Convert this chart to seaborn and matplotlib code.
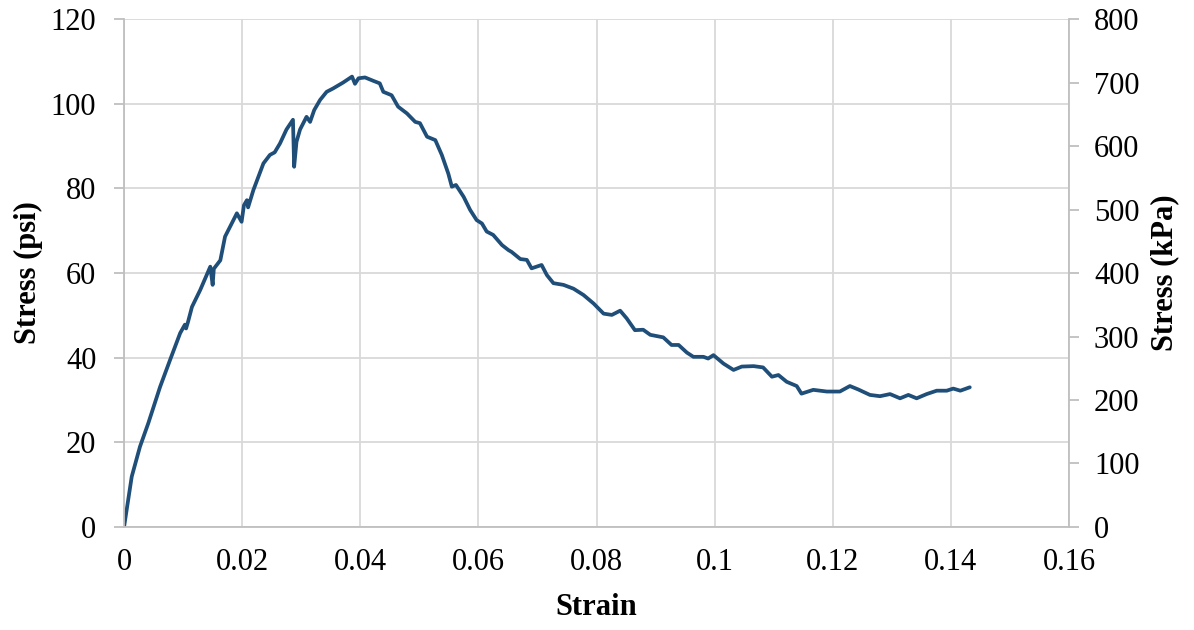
import matplotlib
matplotlib.use("Agg")
import matplotlib.pyplot as plt
import seaborn as sns
import pandas as pd

# strain / stress values
strain = [0.0000, 0.0013, 0.0027, 0.0041, 0.0061, 0.0078, 0.0095, 0.0103, 0.0105, 0.0108,
          0.0115, 0.0129, 0.0146, 0.0150, 0.0152, 0.0163, 0.0171, 0.0191, 0.0199, 0.0203,
          0.0208, 0.0210, 0.0219, 0.0236, 0.0247, 0.0255, 0.0264, 0.0275, 0.0286, 0.0288,
          0.0292, 0.0298, 0.0309, 0.0315, 0.0322, 0.0332, 0.0343, 0.0354, 0.0371, 0.0386,
          0.0391, 0.0397, 0.0408, 0.0422, 0.0433, 0.0439, 0.0453, 0.0464, 0.0479, 0.0493,
          0.0501, 0.0513, 0.0527, 0.0538, 0.0549, 0.0555, 0.0562, 0.0575, 0.0586, 0.0597,
          0.0606, 0.0614, 0.0625, 0.0640, 0.0651, 0.0656, 0.0671, 0.0682, 0.0690, 0.0707,
          0.0716, 0.0727, 0.0744, 0.0761, 0.0778, 0.0795, 0.0812, 0.0826, 0.0840, 0.0851,
          0.0865, 0.0879, 0.0891, 0.0913, 0.0927, 0.0939, 0.0953, 0.0964, 0.0981, 0.0989,
          0.0998, 0.1015, 0.1032, 0.1046, 0.1066, 0.1082, 0.1097, 0.1108, 0.1122, 0.1139,
          0.1147, 0.1167, 0.1190, 0.1212, 0.1229, 0.1243, 0.1263, 0.1280, 0.1297, 0.1314,
          0.1328, 0.1342, 0.1359, 0.1376, 0.1393, 0.1404, 0.1416, 0.1432]
stress_psi = [0.0, 11.9, 19.0, 24.5, 33.1, 39.5, 45.8, 47.8, 46.9, 48.3,
              52.0, 56.0, 61.5, 57.2, 61.0, 63.0, 68.6, 74.1, 72.1, 76.0,
              77.2, 75.5, 79.6, 85.9, 87.9, 88.5, 90.6, 93.9, 96.2, 85.1,
              91.0, 93.9, 96.9, 95.7, 98.5, 100.9, 102.8, 103.6, 105.0, 106.4,
              104.7, 106.0, 106.2, 105.4, 104.8, 102.8, 102.0, 99.3, 97.7, 95.7,
              95.4, 92.2, 91.4, 87.9, 83.5, 80.4, 80.8, 78.0, 74.9, 72.5,
              71.7, 69.8, 69.0, 66.6, 65.4, 65.0, 63.3, 63.1, 61.1, 61.9,
              59.5, 57.6, 57.2, 56.3, 54.8, 52.8, 50.4, 50.1, 51.1, 49.3,
              46.5, 46.6, 45.4, 44.8, 43.0, 43.0, 41.2, 40.2, 40.2, 39.8,
              40.6, 38.6, 37.1, 37.9, 38.0, 37.7, 35.5, 35.9, 34.3, 33.3,
              31.5, 32.4, 32.0, 32.0, 33.3, 32.5, 31.2, 30.9, 31.4, 30.4,
              31.2, 30.4, 31.4, 32.2, 32.2, 32.7, 32.2, 33.0]

x_ticks = [0, 0.02, 0.04, 0.06, 0.08, 0.1, 0.12, 0.14, 0.16]
x_tick_labels = ["0", "0.02", "0.04", "0.06", "0.08", "0.1", "0.12", "0.14", "0.16"]
psi_ticks = [0, 20, 40, 60, 80, 100, 120]
kpa_ticks = [0, 100, 200, 300, 400, 500, 600, 700, 800]

df = pd.DataFrame({"strain": strain, "stress": stress_psi})

sns.set_style("white")
plt.rcParams["font.family"] = ["Liberation Serif", "DejaVu Serif"]
plt.rcParams["text.color"] = "black"
plt.rcParams["axes.labelcolor"] = "black"

line_color = "#1F4E79"
grid_color = "#D9D9D9"
axis_color = "#BFBFBF"
fs = 22

fig = plt.figure(figsize=(11.94, 6.30), dpi=100)
ax = fig.add_axes([0.1039, 0.1635, 0.7914, 0.8063])

sns.lineplot(data=df, x="strain", y="stress", sort=False, estimator=None,
             color=line_color, linewidth=2.7, ax=ax)

ax.set_xlim(0, 0.16)
ax.set_ylim(0, 120)
ax.set_xticks(x_ticks)
ax.set_xticklabels(x_tick_labels)
ax.set_yticks(psi_ticks)
ax.grid(True, color=grid_color, linewidth=1.3)
ax.set_axisbelow(True)

for side in ["top", "right"]:
    ax.spines[side].set_visible(False)
for side in ["left", "bottom"]:
    ax.spines[side].set_color(axis_color)
    ax.spines[side].set_linewidth(1.3)

ax.tick_params(axis="x", direction="out", length=7, width=1.3, color=axis_color,
               labelsize=fs, labelcolor="black", pad=8)
ax.tick_params(axis="y", direction="out", length=7, width=1.3, color=axis_color,
               labelsize=fs, labelcolor="black", pad=13)

ax.set_xlabel("Strain", fontsize=fs, fontweight="bold", va="center", color="black")
ax.xaxis.set_label_coords(0.5, -0.159)
ax.set_ylabel("Stress (psi)", fontsize=fs, fontweight="bold", va="center", color="black")
ax.yaxis.set_label_coords(-0.1016, 0.5)

# secondary axis in kPa
ax2 = ax.twinx()
ax2.set_ylim(0, 800)
ax2.set_yticks(kpa_ticks)
ax2.grid(False)
for side in ["top", "left", "bottom"]:
    ax2.spines[side].set_visible(False)
ax2.spines["right"].set_color(axis_color)
ax2.spines["right"].set_linewidth(1.3)
ax2.tick_params(axis="y", direction="out", length=7, width=1.3, color=axis_color,
                labelsize=fs, labelcolor="black", pad=11)
ax2.set_ylabel("Stress (kPa)", fontsize=fs, fontweight="bold", va="center", color="black")
ax2.yaxis.set_label_coords(1.1016, 0.5)

fig.savefig("out.png", dpi=100)
